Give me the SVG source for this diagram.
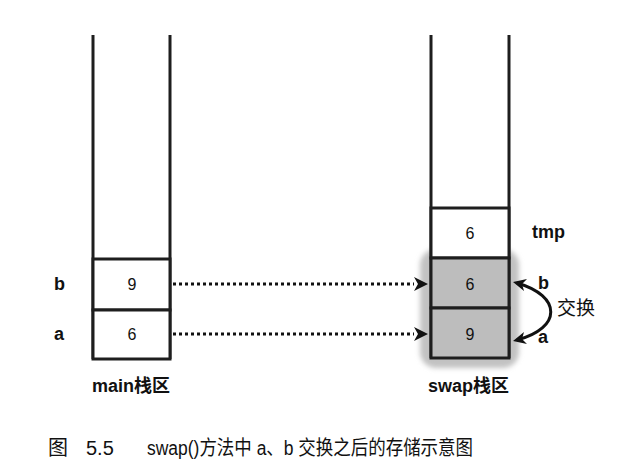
<svg xmlns="http://www.w3.org/2000/svg" width="641" height="469" viewBox="0 0 641 469">
<style>
.wall{stroke:#1e1e1e;stroke-width:3;fill:none}
.cell{stroke:#1e1e1e;stroke-width:3;fill:#fff}
.gcell{stroke:#1e1e1e;stroke-width:3;fill:#bdbdbd}
.num{font-family:"Liberation Sans",Arial,sans-serif;font-size:16px;fill:#111;text-anchor:middle}
.lbl{font-family:"Liberation Sans","Noto Sans CJK SC",sans-serif;font-size:18px;font-weight:bold;fill:#111}
.cap{font-family:"Liberation Sans","Noto Sans CJK SC",sans-serif;font-size:20px;fill:#111}
.dot{stroke:#111;stroke-width:3;stroke-dasharray:3 3;fill:none}
.curve{stroke:#111;stroke-width:3;fill:none}
</style>
<defs>
<filter id="blur" x="-20%" y="-20%" width="140%" height="140%"><feGaussianBlur stdDeviation="2.5"/></filter>
</defs>
<rect width="641" height="469" fill="#fff"/>
<g id="main-stack">
<path class="wall" d="M93,35 V359 M170,35 V359"/>
<rect class="cell" x="93" y="259" width="77" height="51"/>
<rect class="cell" x="93" y="310" width="77" height="49"/>
<text class="num" x="132" y="290">9</text>
<text class="num" x="132" y="340">6</text>
<text class="lbl" x="54" y="290">b</text>
<text class="lbl" x="54" y="340">a</text>
<text class="lbl" x="92" y="392">main栈区</text>
</g>
<g id="swap-stack">
<rect x="420" y="249" width="99" height="119" rx="16" fill="#c2c2c2" filter="url(#blur)"/>
<path class="wall" d="M431,35 V358 M509,35 V358"/>
<rect class="cell" x="431" y="208" width="78" height="50"/>
<rect class="gcell" x="431" y="258" width="78" height="50"/>
<rect class="gcell" x="431" y="308" width="78" height="50"/>
<text class="num" x="470" y="239">6</text>
<text class="num" x="470" y="290">6</text>
<text class="num" x="470" y="340">9</text>
<text class="lbl" x="532" y="238">tmp</text>
<text class="lbl" x="428" y="392">swap栈区</text>
</g>
<g id="connectors">
<path class="dot" d="M173,284 H414"/>
<path class="dot" d="M173,334 H414"/>
<path d="M414,277 L428,284 L414,291 L418,284 Z" fill="#111"/>
<path d="M414,327 L428,334 L414,341 L418,334 Z" fill="#111"/>
<path class="curve" d="M517,283 C562,296 562,328 517,340"/>
<path d="M513,282 L527,279 L522,284 L524,291 Z" fill="#111"/>
<path d="M513,341 L524,332 L522,339 L527,344 Z" fill="#111"/>
</g>
<g id="swap-label">
<text class="lbl" x="538" y="289">b</text>
<text class="lbl" x="538" y="343">a</text>
<text class="lbl" x="557" y="315" style="font-weight:normal;font-size:19px">交换</text>
</g>
<g id="caption">
<text class="cap" x="48" y="455">图</text>
<text class="cap" x="86" y="455">5.5</text>
<text class="cap" x="147" y="455" textLength="326" lengthAdjust="spacingAndGlyphs">swap()方法中 a、b 交换之后的存储示意图</text>
</g>
</svg>
